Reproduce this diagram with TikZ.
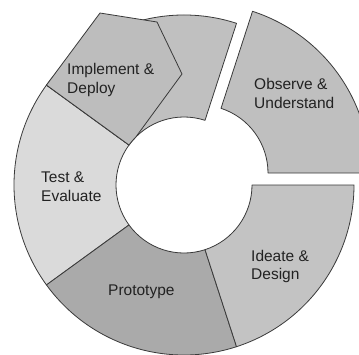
\documentclass[tikz,border=0pt]{standalone}
\usepackage{fontspec}
\setmainfont{Liberation Sans}
\usetikzlibrary{calc}
\definecolor{edgecol}{HTML}{3A3A3A}
\definecolor{txtcol}{HTML}{222222}
\definecolor{testcol}{HTML}{DADADA}
\definecolor{protocol}{HTML}{AAAAAA}
\definecolor{ideacol}{HTML}{C3C3C3}
\definecolor{obscol}{HTML}{BFBFBF}
\definecolor{implring}{HTML}{C0C0C0}
\definecolor{implcol}{HTML}{BDBDBD}
\newcommand\RingSeg[4]{% #1 style, #2 center, #3 start angle, #4 end angle
  \path[#1] ($(#2)+(#3:\Ro)$) arc[start angle=#3,end angle=#4,radius=\Ro]
    -- ($(#2)+(#4:\Ri)$) arc[start angle=#4,end angle=#3,radius=\Ri] -- cycle;}
\def\Ro{170}
\def\Ri{68}
\begin{document}
\begin{tikzpicture}[x=1pt,y=1pt,
  seg/.style={draw=edgecol,line width=0.8pt,line join=round},
  lbl/.style={anchor=base west,inner sep=0pt,font=\fontsize{15.5}{18.7}\selectfont,text=txtcol}]
\useasboundingbox (0,0) rectangle (359,-354);
\clip (0,0) rectangle (359,-354);
\coordinate (c) at (184,-185);
\coordinate (c2) at (200,-173);
% ring segments
\RingSeg{seg,fill=testcol}{c}{144}{216}
\RingSeg{seg,fill=protocol}{c}{216}{288}
\RingSeg{seg,fill=ideacol}{c}{-72}{0}
\RingSeg{seg,fill=implring}{c}{72}{144}
\RingSeg{seg,fill=obscol}{c2}{0}{72}
% implement pentagon
\coordinate (pA) at ($(c)+(144:\Ro)$);
\coordinate (pB) at (100,-13);
\coordinate (pC) at (157,-22);
\coordinate (pD) at (182,-74);
\coordinate (pE) at ($(c)+(135:\Ri)$);
\path[seg,fill=implcol] (pA) -- (pB) -- (pC) -- (pD) -- (pE)
  arc[start angle=135,end angle=144,radius=\Ri] -- cycle;
% labels
\node[lbl] (implA) at (67,-74) {Implement \&};
\node[lbl] (implB) at (67,-93) {Deploy};
\node[lbl] (obsA) at (254,-89) {Observe \&};
\node[lbl] (obsB) at (254,-108) {Understand};
\node[lbl] (testA) at (41,-182) {Test \&};
\node[lbl] (testB) at (41,-201) {Evaluate};
\node[lbl] (proto) at (108,-295.5) {Prototype};
\node[lbl] (ideA) at (251,-261) {Ideate \&};
\node[lbl] (ideB) at (251,-279.5) {Design};
\end{tikzpicture}
\end{document}
